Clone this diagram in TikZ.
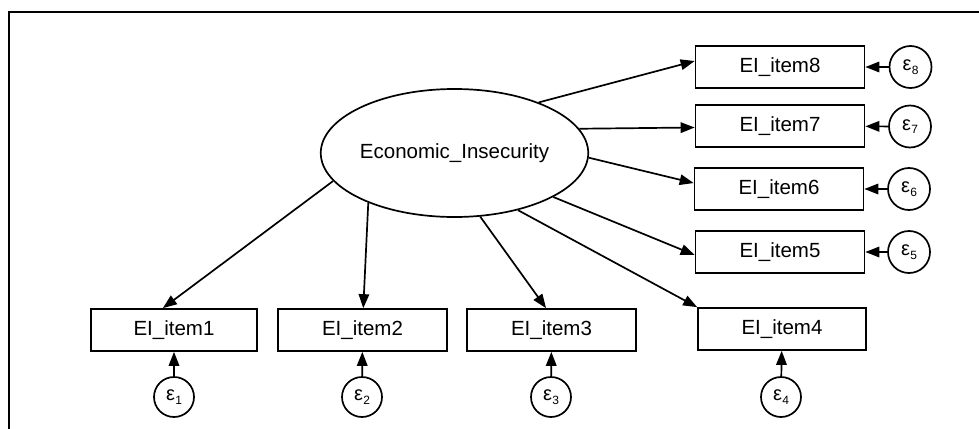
\documentclass[tikz,border=0pt]{standalone}
\usepackage{fontspec}
\setmainfont{Liberation Sans}
\usetikzlibrary{arrows.meta,shapes.geometric}
\newcommand\epsl[1]{ε\kern0.3pt\raisebox{-3.5pt}{\fontsize{12}{12}\selectfont #1}}
\begin{document}
\begin{tikzpicture}[x=1pt,y=-1pt,
  box/.style={draw,line width=1.7pt,minimum width=169pt,minimum height=42pt,inner sep=0pt,font=\fontsize{20.5}{24}\selectfont},
  lat/.style={draw,ellipse,line width=1.7pt,minimum width=252pt,minimum height=128pt,inner sep=0pt,font=\fontsize{20.5}{24}\selectfont},
  err/.style={draw,circle,line width=1.7pt,minimum size=42pt,inner sep=0pt,font=\fontsize{20}{22}\selectfont},
  ld/.style={line width=1.7pt,-{Triangle[length=14pt,width=10.5pt]}}]
\useasboundingbox (0,0) rectangle (979,428);
\draw[line width=1.8pt] (980,12) -- (9,12) -- (9,430);

\node[lat] (EI) at (454.5,153) {Economic\_Insecurity};

\node[box] (i8) at (780,67) {EI\_item8};
\node[box] (i7) at (780,126) {EI\_item7};
\node[box] (i6) at (779,189) {EI\_item6};
\node[box] (i5) at (780,252) {EI\_item5};

\node[box,minimum width=166pt] (i1) at (174,330) {EI\_item1};
\node[box] (i2) at (362.5,330) {EI\_item2};
\node[box] (i3) at (551.5,330) {EI\_item3};
\node[box,minimum width=168pt] (i4) at (782,329) {EI\_item4};

\node[err] (e8) at (910.5,67) {\epsl{8}};
\node[err] (e7) at (910,126.5) {\epsl{7}};
\node[err] (e6) at (909,189) {\epsl{6}};
\node[err] (e5) at (909,252) {\epsl{5}};

\node[err,minimum size=40pt] (e1) at (174,397) {\epsl{1}};
\node[err,minimum size=40pt] (e2) at (362,397) {\epsl{2}};
\node[err,minimum size=40pt] (e3) at (551,397) {\epsl{3}};
\node[err,minimum size=40pt] (e4) at (781,397) {\epsl{4}};

\draw[ld] (EI.31.3) -- (i8.176.4);
\draw[ld] (EI.11.1) -- (i7.181.3);
\draw[ld] (EI.-2.7) -- (i6.176.6);
\draw[ld] (EI.-24.7) -- (i5.182.7);
\draw[ld] (EI.193.7) -- (i1.117.6);
\draw[ld] (EI.210.7) -- (i2.88.6);
\draw[ld] (EI.-68.4) -- (i3.104.7);
\draw[ld] (EI.-42.3) -- (i4.north west);

\draw[ld] (e8) -- (i8);
\draw[ld] (e7) -- (i7);
\draw[ld] (e6) -- (i6);
\draw[ld] (e5) -- (i5);
\draw[ld] (e1) -- (i1);
\draw[ld] (e2) -- (i2);
\draw[ld] (e3) -- (i3);
\draw[ld] (e4) -- (i4);
\end{tikzpicture}
\end{document}
